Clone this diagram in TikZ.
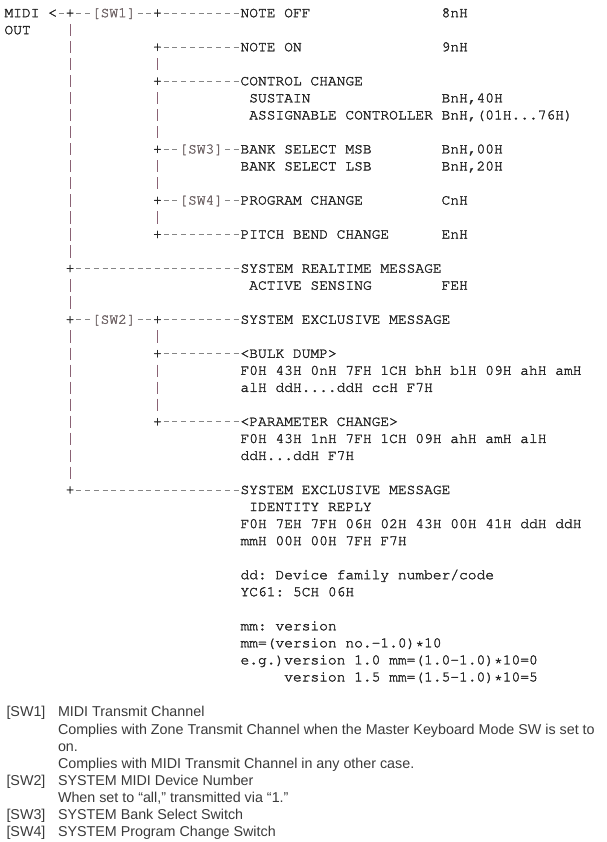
\documentclass[tikz,border=0pt]{standalone}
\usepackage[T1]{fontenc}
\usepackage{fontspec}
\setmainfont{Liberation Sans}
\newcommand\monofam{\fontencoding{T1}\fontfamily{pcr}\fontseries{m}\fontshape{n}}
\newcommand\thickentext{\special{pdf:literal direct 2 Tr 0.28 w}}
\usetikzlibrary{calc}
\definecolor{txt}{HTML}{262626}
\definecolor{dashc}{HTML}{858585}
\definecolor{barc}{HTML}{8A6274}
\definecolor{swc}{HTML}{716668}
\definecolor{legc}{HTML}{3A3A3A}
\tikzset{
  mono/.style={inner sep=0pt, outer sep=0pt, anchor=base west, text=txt,
    font=\monofam\fontsize{14.57pt}{17pt}\selectfont\frenchspacing\thickentext},
  swlab/.style={mono, text=swc},
  junc/.style={mono, text=txt},
  hconn/.style={draw=dashc, line width=0.8pt, dash pattern=on 5pt off 3.742pt, dash phase=6.871pt},
  vconn/.style={draw=barc, line width=0.85pt, dash pattern=on 12.3pt off 4.73pt,
    shorten <=10.88pt, shorten >=10.88pt},
  leg/.style={inner sep=0pt, outer sep=0pt, anchor=base west, text=legc,
    font=\fontsize{14.3pt}{17pt}\selectfont},
}
\newcommand\hc[2]{\draw[hconn] ([yshift=4.1pt]#1.base east) -- ([yshift=4.1pt]#2.base west);}
\newcommand\vc[2]{\draw[vconn] ([yshift=4.15pt]#1.base) -- ([yshift=4.15pt]#2.base);}
\begin{document}
\begin{tikzpicture}
\useasboundingbox (0pt,0pt) rectangle (606pt,-842pt);
\begin{scope}[shift={(4.5pt,-17.2pt)}, x=8.742pt, y=-17.03pt]
\node[mono] (midi) at (0,0) {MIDI};
\node[mono] (out) at (0,1) {OUT};
\node[mono] (lt) at (5,0) {<};
\node[junc] (t0) at (7,0) {+};
\node[swlab] (sw1) at (10,0) {[SW1]};
\node[junc] (b0) at (17,0) {+};
\node[mono] (noteoff) at (27,0) {NOTE OFF};
\node[mono] (v0) at (50,0) {8nH};
\node[junc] (b2) at (17,2) {+};
\node[mono] (noteon) at (27,2) {NOTE ON};
\node[mono] (v2) at (50,2) {9nH};
\node[junc] (b4) at (17,4) {+};
\node[mono] (cc) at (27,4) {CONTROL CHANGE};
\node[mono] (sus) at (28,5) {SUSTAIN};
\node[mono] (v5) at (50,5) {BnH,40H};
\node[mono] (asg) at (28,6) {ASSIGNABLE CONTROLLER};
\node[mono] (v6) at (50,6) {BnH,(01H...76H)};
\node[junc] (b8) at (17,8) {+};
\node[swlab] (sw3) at (20,8) {[SW3]};
\node[mono] (msb) at (27,8) {BANK SELECT MSB};
\node[mono] (v8) at (50,8) {BnH,00H};
\node[mono] (lsb) at (27,9) {BANK SELECT LSB};
\node[mono] (v9) at (50,9) {BnH,20H};
\node[junc] (b11) at (17,11) {+};
\node[swlab] (sw4) at (20,11) {[SW4]};
\node[mono] (pc) at (27,11) {PROGRAM CHANGE};
\node[mono] (v11) at (50,11) {CnH};
\node[junc] (b13) at (17,13) {+};
\node[mono] (pb) at (27,13) {PITCH BEND CHANGE};
\node[mono] (v13) at (50,13) {EnH};
\node[junc] (t15) at (7,15) {+};
\node[mono] (srt) at (27,15) {SYSTEM REALTIME MESSAGE};
\node[mono] (as) at (28,16) {ACTIVE SENSING};
\node[mono] (v16) at (50,16) {FEH};
\node[junc] (t18) at (7,18) {+};
\node[swlab] (sw2) at (10,18) {[SW2]};
\node[junc] (c18) at (17,18) {+};
\node[mono] (sx1) at (27,18) {SYSTEM EXCLUSIVE MESSAGE};
\node[junc] (c20) at (17,20) {+};
\node[mono] (bulk) at (27,20) {<BULK DUMP>};
\node[mono] (bulk1) at (27,21) {F0H 43H 0nH 7FH 1CH bhH blH 09H ahH amH};
\node[mono] (bulk2) at (27,22) {alH ddH....ddH ccH F7H};
\node[junc] (c24) at (17,24) {+};
\node[mono] (par) at (27,24) {<PARAMETER CHANGE>};
\node[mono] (par1) at (27,25) {F0H 43H 1nH 7FH 1CH 09H ahH amH alH};
\node[mono] (par2) at (27,26) {ddH...ddH F7H};
\node[junc] (t28) at (7,28) {+};
\node[mono] (sx2) at (27,28) {SYSTEM EXCLUSIVE MESSAGE};
\node[mono] (idr) at (28,29) {IDENTITY REPLY};
\node[mono] (id1) at (27,30) {F0H 7EH 7FH 06H 02H 43H 00H 41H ddH ddH};
\node[mono] (id2) at (27,31) {mmH 00H 00H 7FH F7H};
\node[mono] (dd1) at (27,33) {dd: Device family number/code};
\node[mono] (dd2) at (27,34) {YC61: 5CH 06H};
\node[mono] (mm1) at (27,36) {mm: version};
\node[mono] (mm2) at (27,37) {mm=(version no.-1.0)*10};
\node[mono] (mm3) at (27,38) {e.g.)version 1.0 mm=(1.0-1.0)*10=0};
\node[mono] (mm4) at (32,39) {version 1.5 mm=(1.5-1.0)*10=5};
% horizontal connectors
\hc{lt}{t0}
\hc{t0}{sw1}
\hc{sw1}{b0}
\hc{b0}{noteoff}
\hc{b2}{noteon}
\hc{b4}{cc}
\hc{b8}{sw3}
\hc{sw3}{msb}
\hc{b11}{sw4}
\hc{sw4}{pc}
\hc{b13}{pb}
\hc{t15}{srt}
\hc{t18}{sw2}
\hc{sw2}{c18}
\hc{c18}{sx1}
\hc{c20}{bulk}
\hc{c24}{par}
\hc{t28}{sx2}
% vertical connectors
\vc{t0}{t15}
\vc{t15}{t18}
\vc{t18}{t28}
\vc{b2}{b4}
\vc{b4}{b8}
\vc{b8}{b11}
\vc{b11}{b13}
\vc{c18}{c20}
\vc{c20}{c24}
\end{scope}
% legend
\begin{scope}[shift={(0pt,-716.9pt)}, y=-17.1pt]
\node[leg] (k1) at (6.5pt,0) {[SW1]};
\node[leg] (d1a) at (58pt,0) {MIDI Transmit Channel};
\node[leg] (d1b) at (58pt,1) {Complies with Zone Transmit Channel when the Master Keyboard Mode SW is set to};
\node[leg] (d1c) at (58pt,2) {on.};
\node[leg] (d1d) at (58pt,3) {Complies with MIDI Transmit Channel in any other case.};
\node[leg] (k2) at (6.5pt,4) {[SW2]};
\node[leg] (d2a) at (58pt,4) {SYSTEM MIDI Device Number};
\node[leg] (d2b) at (58pt,5) {When set to “all,” transmitted via “1.”};
\node[leg] (k3) at (6.5pt,6) {[SW3]};
\node[leg] (d3a) at (58pt,6) {SYSTEM Bank Select Switch};
\node[leg] (k4) at (6.5pt,7) {[SW4]};
\node[leg] (d4a) at (58pt,7) {SYSTEM Program Change Switch};
\end{scope}
\end{tikzpicture}
\end{document}
